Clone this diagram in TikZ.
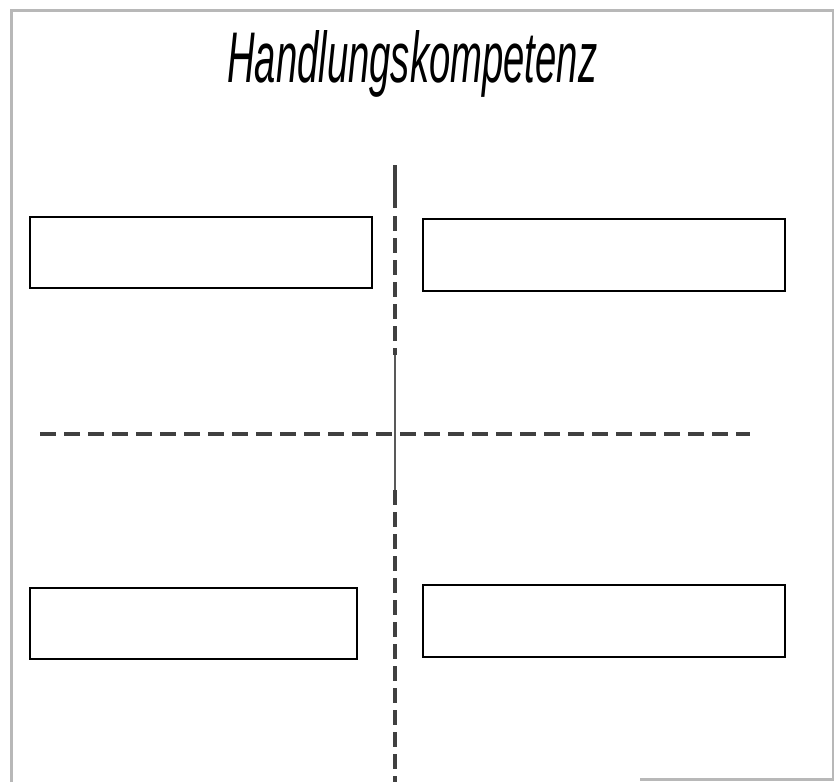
\documentclass[tikz,border=0pt]{standalone}
\usepackage{graphicx}
\usepackage{fontspec}
\setmainfont{Liberation Sans}
\begin{document}
\begin{tikzpicture}[x=1pt,y=-1pt,
  field/.style={draw=black,line width=2.2pt,fill=white,inner sep=0pt},
  axis/.style={draw=black!75,line width=3.4pt,dash pattern=on 15pt off 7pt},
  thinaxis/.style={draw=black!65,line width=1.6pt},
  frame/.style={draw=black!28,line width=3pt}]
\useasboundingbox (0,0) rectangle (834,782);
\fill[white] (0,0) rectangle (834,782);
% frame
\draw[frame] (11,782) -- (11,10) -- (833,10) -- (833,779) -- (640,779);
% title
\node[inner sep=0pt,anchor=north west] (title) at (227,30) {\resizebox{370pt}{52pt}{\itshape Handlungskompetenz}};
% axes
\coordinate (vtop) at (395,165);
\coordinate (vs) at (395,208);
\coordinate (vm1) at (395,355);
\coordinate (vm2) at (395,490);
\coordinate (vbot) at (395,782);
\coordinate (hl) at (40,434);
\coordinate (hr) at (750,434);
\draw[draw=black!75,line width=3.4pt] (vtop) -- (vs);
\draw[axis] ([yshift=-8pt]vs) -- (vm1);
\draw[thinaxis] (vm1) -- (vm2);
\draw[axis] (vm2) -- (vbot);
\draw[axis,line width=3.2pt,dash pattern=on 16pt off 8pt] (hl) -- (hr);
% boxes
\node[field,minimum width=342pt,minimum height=71pt,anchor=north west] (tl) at (29,216) {};
\node[field,minimum width=362pt,minimum height=72pt,anchor=north west] (tr) at (422,218) {};
\node[field,minimum width=327pt,minimum height=71pt,anchor=north west] (bl) at (29,587) {};
\node[field,minimum width=362pt,minimum height=72pt,anchor=north west] (br) at (422,584) {};
\end{tikzpicture}
\end{document}
